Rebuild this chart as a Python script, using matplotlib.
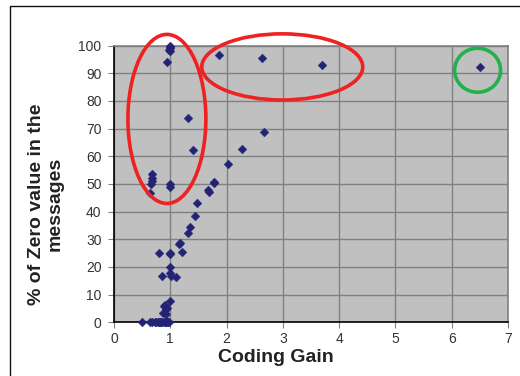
import matplotlib
matplotlib.use("Agg")
import matplotlib.pyplot as plt
from matplotlib.patches import Ellipse, Rectangle

plt.rcParams['font.family'] = ['Liberation Sans', 'DejaVu Sans']

coding_gain = [
    0.99, 0.99, 1.00, 0.98, 1.00, 0.94,
    1.31, 1.41, 2.03, 2.28, 2.66,
    1.87, 2.63, 3.69, 6.50,
    0.68, 0.67, 0.67, 0.66, 0.64, 0.99, 0.99,
    1.78, 1.77, 1.67, 1.68,
    1.47, 1.44, 1.35, 1.32, 1.17, 1.16, 1.21,
    0.80, 0.99, 1.00, 0.99, 0.85, 1.00, 1.02, 1.11,
    0.99, 0.89, 0.93, 0.87, 0.92, 0.95, 0.91,
    0.49, 0.64, 0.67, 0.72, 0.75, 0.78, 0.80, 0.82, 0.84, 0.86,
    0.88, 0.90, 0.92, 0.94, 0.96, 0.98,
]
zero_pct = [
    100.0, 99.5, 99.0, 98.5, 98.0, 94.0,
    73.8, 62.3, 57.1, 62.6, 68.8,
    96.7, 95.4, 92.9, 92.4,
    53.6, 52.2, 51.0, 50.0, 46.6, 50.0, 49.0,
    50.8, 50.4, 47.8, 47.0,
    43.0, 38.4, 34.3, 32.2, 28.8, 28.4, 25.4,
    25.0, 25.0, 24.6, 20.0, 16.9, 17.7, 16.7, 16.4,
    7.8, 5.9, 4.7, 3.5, 3.0, 5.2, 6.3,
    0, 0, 0, 0, 0, 0, 0, 0, 0, 0,
    0, 0, 0, 0, 0, 0,
]

x_ticks = [0, 1, 2, 3, 4, 5, 6, 7]
y_ticks = [0, 10, 20, 30, 40, 50, 60, 70, 80, 90, 100]

fig = plt.figure(figsize=(5.2, 3.76), dpi=100)
fig.patch.set_facecolor('white')
ax = fig.add_axes([0.2192, 0.1428, 0.9769 - 0.2192, 0.8787 - 0.1428])
ax.set_facecolor('#C0C0C0')

ax.scatter(coding_gain, zero_pct, marker='D', s=20, color='#232375',
           edgecolors='#232375', linewidths=0.3, zorder=3, clip_on=False)

ax.set_xlim(0, 7)
ax.set_ylim(0, 100)
ax.set_xticks(x_ticks)
ax.set_yticks(y_ticks)
ax.grid(True, color='#808080', linewidth=1.0)
ax.set_axisbelow(True)
ax.tick_params(axis='both', labelsize=10, labelcolor='#333333', length=4,
               width=0.8, direction='out', color='#808080')
ax.tick_params(axis='y', pad=5)
ax.tick_params(axis='x', pad=3)
for s in ['left', 'bottom']:
    ax.spines[s].set_color('black')
    ax.spines[s].set_linewidth(1.2)
for s in ['top', 'right']:
    ax.spines[s].set_color('#808080')
    ax.spines[s].set_linewidth(1.2)

ax.set_xlabel('Coding Gain', fontsize=14, fontweight='bold', color='#222222')
ax.xaxis.set_label_coords(0.41, -0.097)
ax.set_ylabel('% of Zero value in the\nmessages', fontsize=14,
              fontweight='bold', color='#222222', linespacing=1.05)
ax.yaxis.label.set_va('center')
ax.yaxis.set_label_coords(-0.173, 0.4276)

# annotation ellipses
ells = [
    ((0.94, 73.5), 1.385, 61.1, '#EE2222'),
    ((2.99, 92.3), 2.86, 23.9, '#EE2222'),
    ((6.46, 91.1), 0.817, 15.9, '#22B14C'),
]
for (c, w, h, col) in ells:
    e = Ellipse(c, w, h, fill=False, edgecolor=col, linewidth=2.6,
                clip_on=False, zorder=4)
    ax.add_patch(e)

# figure frame
fig.patches.append(Rectangle((10 / 520, -0.2), 1.2, 1 - 6 / 376 + 0.2,
                             transform=fig.transFigure, fill=False,
                             edgecolor='#111111', linewidth=1.0))

fig.savefig('out.png', dpi=100)
